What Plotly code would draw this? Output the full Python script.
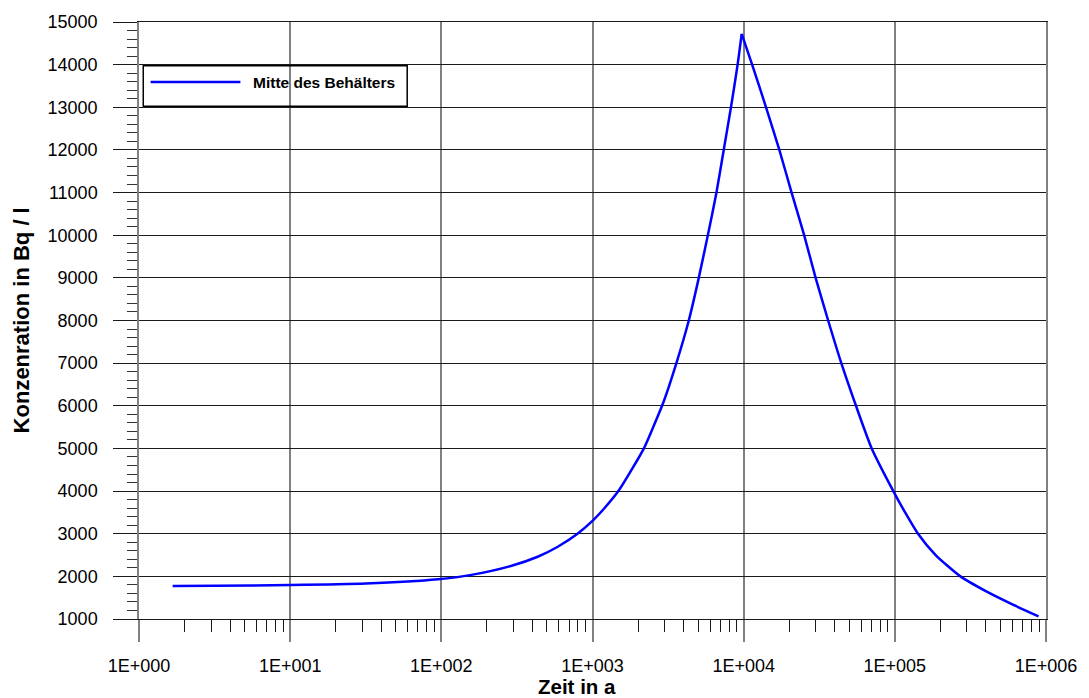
import plotly.graph_objects as go

# Data
zeit_a = [1.67, 3.16, 10, 31.6, 95, 158, 292, 434, 589, 796, 1000, 1194, 1483,
          1833, 2188, 2543, 2958, 3589, 4335, 5047, 5794, 6607, 7379, 8241, 9120,
          9705, 11376, 14060, 17220, 20750, 25120, 29920, 36220, 44260, 55340,
          70310, 97700, 118000, 142300, 186200, 271600, 397000, 594000,
          893000]
konz = [1775, 1780, 1795, 1830, 1930, 2035, 2250, 2460, 2695, 3000, 3300, 3590, 4000,
        4525, 5000, 5530, 6100, 7000, 8000, 9000, 10000, 11000, 12000, 13000, 14000,
        14720, 14000, 13000, 12000, 11000, 10000, 9000, 8000, 7000, 6000,
        5000, 4000, 3475, 3000, 2500, 2000, 1660, 1350,
        1060]
series_name = "Mitte des Behälters"

x_tickvals = [1, 10, 100, 1000, 10000, 100000, 1000000]
x_ticktext = ["1E+000", "1E+001", "1E+002", "1E+003", "1E+004", "1E+005", "1E+006"]
x_title = "Zeit in a"
y_title = "Konzenration in Bq / l"

FONT = "Liberation Sans, Arial, sans-serif"
GRAY = "#808080"
DARK = "#1a1a1a"

# split at the sharp peak so that each smooth branch keeps the cusp
ipk = konz.index(max(konz))

fig = go.Figure()
for xs, ys in ((zeit_a[:ipk + 1], konz[:ipk + 1]), (zeit_a[ipk:], konz[ipk:])):
    fig.add_trace(go.Scatter(x=xs, y=ys, mode="lines", name=series_name,
                             line=dict(color="#0000ff", width=2.5, shape="spline",
                                       smoothing=0.6),
                             showlegend=False))

fig.update_layout(
    width=1089, height=698,
    margin=dict(l=139, r=38, t=19, b=79),
    paper_bgcolor="white", plot_bgcolor="white",
    font=dict(family=FONT, color="black", size=18),
    xaxis=dict(type="log", range=[0, 6], tickvals=x_tickvals, ticktext=x_ticktext,
               ticks="outside", ticklen=22, tickwidth=1.5, tickcolor=GRAY,
               showgrid=True, gridcolor=GRAY, gridwidth=1.5,
               showline=True, linecolor=DARK, linewidth=1.2, mirror=True,
               zeroline=False, ticklabelstandoff=8,
               tickfont=dict(family=FONT, size=18, color="black"),
               minor=dict(ticks="outside", ticklen=12, tickwidth=1, tickcolor=DARK,
                          dtick="D1", showgrid=False)),
    yaxis=dict(range=[1000, 15000], dtick=1000, tick0=1000, tickformat="d",
               ticks="outside", ticklen=24, tickwidth=1.2, tickcolor=DARK,
               showgrid=True, gridcolor=DARK, gridwidth=1.2,
               showline=True, linecolor=GRAY, linewidth=1.5, mirror=True,
               zeroline=False, ticklabelstandoff=12,
               tickfont=dict(family=FONT, size=18, color="black"),
               minor=dict(ticks="outside", ticklen=10, tickwidth=1, tickcolor="#333",
                          dtick=200, showgrid=False)),
)

# Custom legend (transparent box with long line sample)
fig.add_shape(type="rect", xref="paper", yref="paper",
              x0=0.0047, x1=0.2957, y0=0.8588, y1=0.9267,
              line=dict(color="black", width=1.5), fillcolor="rgba(0,0,0,0)")
fig.add_shape(type="line", xref="paper", yref="paper",
              x0=0.0128, x1=0.1118, y0=0.8993, y1=0.8993,
              line=dict(color="#0000ff", width=2.5))
fig.add_annotation(xref="paper", yref="paper", x=0.1236, y=0.8985,
                   xanchor="left", yanchor="middle", showarrow=False,
                   text="<b>" + series_name + "</b>",
                   font=dict(family=FONT, size=15.5, color="black"))

# Axis titles
fig.add_annotation(xref="paper", yref="paper", x=0.4825, y=-0.1128,
                   xanchor="center", yanchor="middle", showarrow=False,
                   text="<b>" + x_title + "</b>",
                   font=dict(family=FONT, size=20.5, color="black"))
fig.add_annotation(xref="paper", yref="paper", x=-0.1299, y=0.5005,
                   xanchor="center", yanchor="middle", showarrow=False,
                   textangle=-90, text="<b>" + y_title + "</b>",
                   font=dict(family=FONT, size=22, color="black"))

fig.write_html("out.html")
